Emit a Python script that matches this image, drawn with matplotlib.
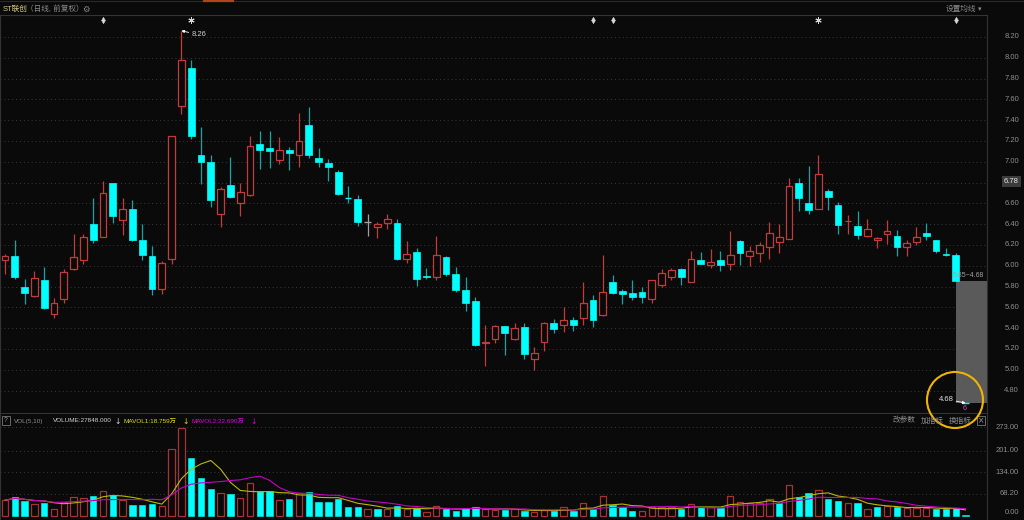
import numpy as np
import pandas as pd
import matplotlib
matplotlib.use("Agg")
import matplotlib.pyplot as plt
from matplotlib.patches import Rectangle, Ellipse
from matplotlib.lines import Line2D
from matplotlib import transforms

plt.rcParams['font.family'] = ['Liberation Sans', 'Noto Sans CJK SC', 'DejaVu Sans']

# daily OHLC (前复权)
opens = [6.06, 6.09, 5.80, 5.71, 5.86, 5.54, 5.68, 5.97, 6.06, 6.40,
         6.28, 6.80, 6.44, 6.55, 6.25, 6.09, 5.78, 6.07, 7.54, 7.90,
         7.07, 7.00, 6.50, 6.78, 6.60, 6.68, 7.17, 7.13, 7.02, 7.11,
         7.07, 7.35, 7.04, 6.99, 6.90, 6.65, 6.64, 6.42, 6.37, 6.41,
         6.41, 6.07, 6.13, 5.90, 5.89, 6.08, 5.92, 5.77, 5.66, 5.26,
         5.30, 5.42, 5.30, 5.41, 5.10, 5.27, 5.45, 5.43, 5.48, 5.50,
         5.67, 5.53, 5.84, 5.76, 5.74, 5.75, 5.68, 5.82, 5.89, 5.97,
         5.84, 6.06, 6.01, 6.06, 6.02, 6.24, 6.09, 6.12, 6.18, 6.23,
         6.26, 6.80, 6.60, 6.55, 6.72, 6.58, 6.43, 6.38, 6.29, 6.25,
         6.31, 6.29, 6.18, 6.23, 6.32, 6.25, 6.11, 6.10, 4.68]
highs = [6.11, 6.25, 5.87, 5.95, 5.99, 5.69, 5.97, 6.31, 6.31, 6.65,
         6.82, 6.80, 6.65, 6.63, 6.40, 6.19, 6.05, 7.25, 8.26, 7.98,
         7.33, 7.07, 6.76, 7.05, 6.80, 7.25, 7.30, 7.30, 7.24, 7.14,
         7.47, 7.53, 7.13, 7.03, 6.92, 6.77, 6.68, 6.50, 6.42, 6.50,
         6.45, 6.24, 6.17, 5.98, 6.29, 6.09, 5.99, 5.89, 5.70, 5.43,
         5.43, 5.42, 5.45, 5.45, 5.22, 5.46, 5.49, 5.60, 5.51, 5.84,
         5.72, 6.10, 5.91, 5.78, 5.86, 5.80, 5.86, 5.97, 5.98, 5.98,
         6.14, 6.13, 6.16, 6.14, 6.33, 6.25, 6.19, 6.23, 6.42, 6.40,
         6.84, 6.84, 6.96, 7.07, 6.74, 6.61, 6.49, 6.53, 6.45, 6.28,
         6.44, 6.34, 6.25, 6.37, 6.41, 6.25, 6.17, 6.12, 4.68]
lows = [5.92, 5.87, 5.63, 5.70, 5.58, 5.50, 5.64, 5.96, 6.02, 6.22,
        6.28, 6.41, 6.30, 6.24, 6.06, 5.72, 5.73, 6.02, 7.46, 7.22,
        6.79, 6.57, 6.37, 6.65, 6.48, 6.67, 6.93, 6.94, 6.98, 6.92,
        6.95, 7.04, 6.95, 6.82, 6.68, 6.60, 6.38, 6.29, 6.27, 6.35,
        6.06, 6.03, 5.81, 5.87, 5.86, 5.90, 5.75, 5.57, 5.23, 5.04,
        5.26, 5.14, 5.29, 5.10, 5.00, 5.18, 5.35, 5.36, 5.37, 5.43,
        5.41, 5.52, 5.73, 5.63, 5.67, 5.64, 5.64, 5.80, 5.86, 5.82,
        5.84, 6.02, 5.98, 5.95, 5.96, 6.01, 6.00, 6.04, 6.07, 6.12,
        6.26, 6.53, 6.50, 6.55, 6.54, 6.31, 6.31, 6.26, 6.28, 6.17,
        6.21, 6.09, 6.09, 6.20, 6.25, 6.12, 6.09, 5.85, 4.68]
closes = [6.09, 5.89, 5.74, 5.88, 5.59, 5.64, 5.94, 6.08, 6.28, 6.25,
          6.70, 6.48, 6.55, 6.25, 6.10, 5.78, 6.03, 7.25, 7.98, 7.25,
          7.00, 6.63, 6.74, 6.66, 6.71, 7.15, 7.11, 7.10, 7.11, 7.08,
          7.20, 7.07, 7.00, 6.95, 6.69, 6.65, 6.42, 6.42, 6.40, 6.45,
          6.07, 6.11, 5.87, 5.89, 6.10, 5.92, 5.77, 5.64, 5.24, 5.27,
          5.42, 5.35, 5.40, 5.15, 5.16, 5.45, 5.39, 5.48, 5.43, 5.64,
          5.48, 5.75, 5.74, 5.73, 5.70, 5.70, 5.86, 5.93, 5.96, 5.89,
          6.07, 6.02, 6.04, 6.01, 6.10, 6.12, 6.14, 6.20, 6.32, 6.28,
          6.77, 6.65, 6.54, 6.88, 6.66, 6.39, 6.43, 6.30, 6.35, 6.27,
          6.33, 6.18, 6.22, 6.28, 6.29, 6.14, 6.10, 5.85, 4.68]
# volume in 万
volumes = [49, 59, 46, 37, 40, 22, 44, 58, 56, 62,
           76, 65, 49, 35, 33, 36, 30, 205, 270, 179,
           117, 83, 71, 67, 55, 102, 77, 76, 49, 51,
           71, 74, 42, 44, 51, 29, 29, 21, 21, 21,
           32, 21, 24, 13, 32, 22, 16, 24, 28, 21,
           18, 18, 21, 16, 12, 18, 16, 27, 16, 41,
           21, 61, 34, 27, 16, 16, 27, 27, 27, 22,
           36, 27, 27, 25, 61, 44, 40, 39, 51, 39,
           95, 59, 70, 80, 52, 46, 39, 39, 21, 27,
           30, 28, 24, 24, 25, 21, 21, 24, 2.7848]

price_ticks = [8.20, 8.00, 7.80, 7.60, 7.40, 7.20, 7.00, 6.80, 6.60,
               6.40, 6.20, 6.00, 5.80, 5.60, 5.40, 5.20, 5.00, 4.80]
vol_ticks = [273.00, 201.00, 134.00, 68.20]

# event markers on top of the chart
mark_idx = [10, 19, 60, 62, 83, 97]
mark_kind = ['d', (6, 2, 0), 'd', 'd', (6, 2, 0), 'd']

BG = '#0a0a0a'
RED = '#c23b3b'
VRED = '#a83232'
CYAN = '#00ffff'
TEAL = '#17a3a3'
GRAY = '#a0a0a0'
GRID = '#3a3a3a'
LINE = '#333333'
AXTXT = '#8c8c8c'

W, H = 1024, 520


def px(x, y):
    return x / W, 1 - y / H


def rect(x0, y0, x1, y1):
    return [x0 / W, 1 - y1 / H, (x1 - x0) / W, (y1 - y0) / H]


fig = plt.figure(figsize=(10.24, 5.2), dpi=100, facecolor=BG)
ax = fig.add_axes(rect(0, 15, 987, 413), facecolor=BG)
axv = fig.add_axes(rect(0, 414, 987, 519), facecolor=BG)

n = len(closes)
xs = np.arange(n)


def direction(i):
    if closes[i] > opens[i]:
        return 1
    if closes[i] < opens[i]:
        return -1
    if i == 0 or closes[i] == closes[i - 1]:
        return 0
    return 1 if closes[i] > closes[i - 1] else -1


# candles
bw = 0.68
for i in range(n):
    o, h, l, c = opens[i], highs[i], lows[i], closes[i]
    top, bot = max(o, c), min(o, c)
    d = direction(i)
    if d > 0:
        ax.vlines(i, top, h, color=RED, lw=0.9, zorder=3)
        ax.vlines(i, l, bot, color=RED, lw=0.9, zorder=3)
        if top - bot > 0.004:
            ax.add_patch(Rectangle((i - bw / 2, bot), bw, top - bot, facecolor=BG,
                                   edgecolor=RED, lw=0.9, zorder=3))
        else:
            ax.hlines(c, i - bw / 2, i + bw / 2, color=RED, lw=0.9, zorder=3)
    elif d < 0:
        ax.vlines(i, l, h, color=TEAL, lw=0.9, zorder=3)
        if top - bot > 0.004:
            ax.add_patch(Rectangle((i - bw / 2, bot), bw, top - bot, facecolor=CYAN,
                                   edgecolor=CYAN, lw=0.5, zorder=4))
        else:
            ax.hlines(c, i - bw / 2, i + bw / 2, color=CYAN, lw=1.0, zorder=4)
    else:
        ax.vlines(i, l, h, color=GRAY, lw=0.9, zorder=3)
        ax.hlines(c, i - bw / 2, i + bw / 2, color=GRAY, lw=1.0, zorder=3)

ax.set_xlim(-0.51, 100.2)
ax.set_ylim(4.5846, 8.4115)
ax.hlines(price_ticks, -0.51, 100.2, colors=GRID, linestyles=(0, (1, 3)), lw=0.7, zorder=1)

# limit-down gap box and labels
ax.add_patch(Rectangle((97, 4.68), 100.2 - 97, 5.85 - 4.68, facecolor='#5a5a5a',
                       edgecolor='none', zorder=2))
ax.text(96.7, 5.905, '5.85~4.68', color='#a0a0a0', fontsize=5, ha='left', va='center',
        zorder=5, clip_on=True)
ax.annotate('8.26', xy=(18, 8.26), xytext=(10, -4), textcoords='offset pixels',
            color='#d0d0d0', fontsize=5.5, ha='left', va='center', zorder=6,
            arrowprops=dict(arrowstyle='-|>', color='white', lw=0.6, shrinkA=0, shrinkB=0,
                            mutation_scale=4))
ax.annotate('4.68', xy=(98, 4.68), xytext=(-12, 4), textcoords='offset pixels',
            color='#e0e0e0', fontsize=5.5, ha='right', va='center', zorder=6,
            arrowprops=dict(arrowstyle='-|>', color='white', lw=0.6, shrinkA=0, shrinkB=0,
                            mutation_scale=4))

mtrans = transforms.blended_transform_factory(ax.transData, ax.transAxes)
for k, m in zip(mark_idx, mark_kind):
    ax.plot([k], [0.987], marker=m, color='#d8d8d8', markersize=3.2 if m == 'd' else 4.5,
            markeredgewidth=0.7 if m != 'd' else 0.4, transform=mtrans,
            clip_on=False, zorder=6)

# volume panel
for i in range(n):
    up = direction(0) >= 0 if i == 0 else closes[i] >= closes[i - 1]
    if up:
        axv.add_patch(Rectangle((i - 0.32, 0), 0.64, volumes[i], facecolor=BG,
                                edgecolor=VRED, lw=0.9, zorder=3))
    else:
        axv.add_patch(Rectangle((i - 0.32, 0), 0.64, volumes[i], facecolor=CYAN,
                                edgecolor=CYAN, lw=0.4, zorder=3))

ma5 = pd.Series(volumes).rolling(5, min_periods=1).mean()
ma10 = pd.Series(volumes).rolling(10, min_periods=1).mean()
axv.plot(xs, ma5, color='#b8b800', lw=0.8, zorder=4)
axv.plot(xs, ma10, color='#c400c4', lw=0.8, zorder=4)
axv.set_xlim(-0.51, 100.2)
axv.set_ylim(-9.23, 313.8)
axv.hlines(vol_ticks, -0.51, 100.2, colors=GRID, linestyles=(0, (1, 3)), lw=0.7, zorder=1)

for a in (ax, axv):
    a.set_xticks([])
    a.set_yticks([])
    for s in a.spines.values():
        s.set_color(LINE)
        s.set_linewidth(0.8)
axv.spines['top'].set_visible(False)
axv.spines['bottom'].set_visible(False)

# right axis labels
ptrans = transforms.blended_transform_factory(fig.transFigure, ax.transData)
for p in price_ticks:
    ax.text(1019 / W, p, f'{p:.2f}', transform=ptrans, color=AXTXT, fontsize=5.5,
            ha='right', va='center', clip_on=False)
vtrans = transforms.blended_transform_factory(fig.transFigure, axv.transData)
for v in vol_ticks:
    axv.text(1019 / W, v, f'{v:.2f}', transform=vtrans, color=AXTXT, fontsize=5.5,
             ha='right', va='center', clip_on=False)
axv.text(1019 / W, 0, '0.00', transform=vtrans, color=AXTXT, fontsize=5.5,
         ha='right', va='bottom', clip_on=False)
ax.text(1019 / W, 6.81, '6.78', transform=ptrans, color='#e8e8e8', fontsize=5.5,
        ha='right', va='center', clip_on=False,
        bbox=dict(boxstyle='square,pad=0.25', facecolor='#3c3c3c', edgecolor='none'))

# header texts
fig.text(*px(3, 9), 'ST联创', color='#d8c878', fontsize=5.5, ha='left', va='center')
fig.text(*px(26, 9), '（日线, 前复权）', color='#8a8a8a', fontsize=5.5, ha='left', va='center')
fig.text(*px(82, 9), '⚙', color='#8a8a8a', fontsize=6, ha='left', va='center',
         family=['DejaVu Sans'])
fig.text(*px(976, 9), '设置均线', color='#8a8a8a', fontsize=5.5, ha='right', va='center')
fig.text(*px(978, 9), '▾', color='#8a8a8a', fontsize=5, ha='left', va='center',
         family=['DejaVu Sans'])

fig.add_artist(Rectangle(px(2, 425), 8 / W, 9 / H, fill=False, edgecolor='#777777', lw=0.6))
fig.text(*px(6, 421), '?', color='#9a9a9a', fontsize=4.8, ha='center', va='center')
fig.text(*px(14, 421), 'VOL(5,10)', color='#8a8a8a', fontsize=4.6, ha='left', va='center')
fig.text(*px(53, 421), 'VOLUME:27848.000', color='#d0d0d0', fontsize=4.6, ha='left', va='center')
fig.text(*px(118, 421), '↓', color='#d0d0d0', fontsize=5.5, ha='center', va='center',
         family=['DejaVu Sans'])
fig.text(*px(123, 421), 'MAVOL1:18.759万', color='#d8d800', fontsize=4.6, ha='left', va='center')
fig.text(*px(186, 421), '↓', color='#d8d800', fontsize=5.5, ha='center', va='center',
         family=['DejaVu Sans'])
fig.text(*px(191, 421), 'MAVOL2:22.690万', color='#e000e0', fontsize=4.6, ha='left', va='center')
fig.text(*px(254, 421), '↓', color='#e000e0', fontsize=5.5, ha='center', va='center',
         family=['DejaVu Sans'])
fig.text(*px(893, 421), '改参数', color='#8a8a8a', fontsize=5.5, ha='left', va='center')
fig.text(*px(921, 421), '加指标', color='#8a8a8a', fontsize=5.5, ha='left', va='center')
fig.text(*px(949, 421), '换指标', color='#8a8a8a', fontsize=5.5, ha='left', va='center')
fig.add_artist(Rectangle(px(977, 425), 8 / W, 9 / H, fill=False, edgecolor='#777777', lw=0.6))
fig.text(*px(981, 421), '×', color='#9a9a9a', fontsize=5.5, ha='center', va='center',
         family=['DejaVu Sans'])

# top strip
fig.add_artist(Line2D([0, 1], [1 - 1 / H] * 2, color='#2a2a2a', lw=0.8))
fig.add_artist(Line2D([204 / W, 233 / W], [1 - 1 / H] * 2, color='#b0441a', lw=1.6))

# lowest price marks and highlight circle
fig.text(*px(965, 409), '6', color='#e040e0', fontsize=5, ha='center', va='center')
fig.add_artist(Ellipse(px(955, 400), 56 / W, 56 / H, fill=False, edgecolor='#f0b400', lw=1.5))

fig.savefig('out.png', dpi=100, facecolor=BG)
